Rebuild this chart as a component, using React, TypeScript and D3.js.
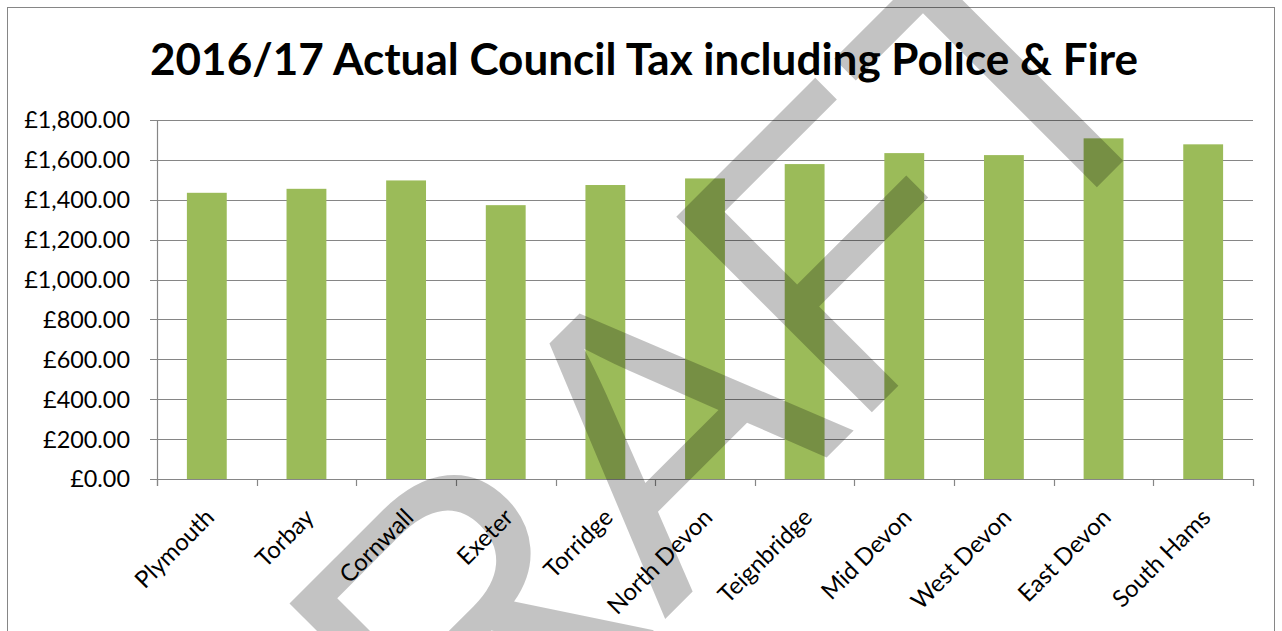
import React from "react";
import * as d3 from "d3";

const categories = [
  "Plymouth",
  "Torbay",
  "Cornwall",
  "Exeter",
  "Torridge",
  "North Devon",
  "Teignbridge",
  "Mid Devon",
  "West Devon",
  "East Devon",
  "South Hams",
];
const councilTax = [1435, 1455, 1497, 1373, 1474, 1507, 1579, 1634, 1624, 1708, 1678];
const yTicks = [0, 200, 400, 600, 800, 1000, 1200, 1400, 1600, 1800];
const chartTitle = "2016/17 Actual Council Tax including Police & Fire";
const watermarkText = ["D", "R", "A", "F", "T"];

const W = 1282;
const H = 631;
const FONT = "Lato, 'Open Sans', sans-serif";

export default function App() {
  const left = 157;
  const right = 1253;
  const top = 120;
  const bottom = 479;

  const x = d3
    .scaleBand<string>()
    .domain(categories)
    .range([left, right])
    .paddingInner(0.6)
    .paddingOuter(0.3);
  const step = x.step();
  const y = d3.scaleLinear().domain([0, 1800]).range([bottom, top]);
  const fmt = (v: number) => "£" + d3.format(",.2f")(v);

  const gridColor = "#868686";

  // watermark letter placement (rotated frame)
  const wmFont = 402;
  const wmBase = 908;
  const wmLetters = [
    { ch: watermarkText[0], x: -545, anchor: "start" },
    { ch: watermarkText[1], x: -255, anchor: "start" },
    { ch: watermarkText[2], x: 166, anchor: "middle" },
    { ch: watermarkText[3], x: 292, anchor: "start" },
    { ch: watermarkText[4], x: 662, anchor: "middle" },
  ];

  return (
    <div style={{ position: "fixed", left: 0, top: 0, width: W, height: H, background: "#fff" }}>
      <svg width={W} height={H} viewBox={`0 0 ${W} ${H}`} style={{ display: "block" }}>
        <rect x={0} y={0} width={W} height={H} fill="#fff" />
        {/* chart border */}
        <rect x={7.5} y={7.5} width={1267} height={660} fill="none" stroke={gridColor} strokeWidth={1} />

        {/* title */}
        <text
          x={644}
          y={75}
          textAnchor="middle"
          fontFamily={FONT}
          fontWeight={700}
          fontSize={44.6}
          textLength={988}
          lengthAdjust="spacingAndGlyphs"
          fill="#000"
        >
          {chartTitle}
        </text>

        {/* gridlines + y ticks */}
        {yTicks.map((t) => {
          const yy = Math.round(y(t)) + 0.5;
          return (
            <g key={t}>
              <line x1={150} x2={right} y1={yy} y2={yy} stroke={gridColor} strokeWidth={1.2} />
              <text
                x={130}
                y={y(t)}
                dy="0.36em"
                textAnchor="end"
                fontFamily={FONT}
                fontSize={23.4}
                fill="#000"
              >
                {fmt(t)}
              </text>
            </g>
          );
        })}

        {/* bars */}
        {categories.map((c, i) => (
          <rect
            key={c}
            x={x(c)}
            y={y(councilTax[i])}
            width={x.bandwidth()}
            height={bottom - y(councilTax[i])}
            fill="#9BBB59"
          />
        ))}

        {/* axes */}
        <line x1={left + 0.5} x2={left + 0.5} y1={top} y2={bottom + 7} stroke={gridColor} strokeWidth={1.2} />
        <line x1={150} x2={right} y1={bottom + 0.5} y2={bottom + 0.5} stroke={gridColor} strokeWidth={1.2} />
        {d3.range(categories.length + 1).map((i) => {
          const xx = Math.round(left + i * step) + 0.5;
          return <line key={i} x1={xx} x2={xx} y1={bottom} y2={bottom + 7} stroke={gridColor} strokeWidth={1.2} />;
        })}

        {/* x labels */}
        {categories.map((c) => {
          const cx = (x(c) as number) + x.bandwidth() / 2 - 3;
          const cy = 507;
          return (
            <text
              key={c}
              x={cx}
              y={cy}
              dy="0.71em"
              textAnchor="end"
              transform={`rotate(-45 ${cx} ${cy})`}
              fontFamily={FONT}
              fontSize={23.8}
              fill="#000"
            >
              {c}
            </text>
          );
        })}

        {/* DRAFT watermark */}
        <g transform="rotate(-45)" fill="#000" fillOpacity={0.235}>
          {wmLetters.map((l, i) => (
            <text
              key={i}
              x={l.x}
              y={wmBase}
              textAnchor={l.anchor as any}
              fontFamily="'Liberation Sans', Arial, sans-serif"
              fontSize={wmFont}
            >
              {l.ch}
            </text>
          ))}
        </g>
      </svg>
    </div>
  );
}
